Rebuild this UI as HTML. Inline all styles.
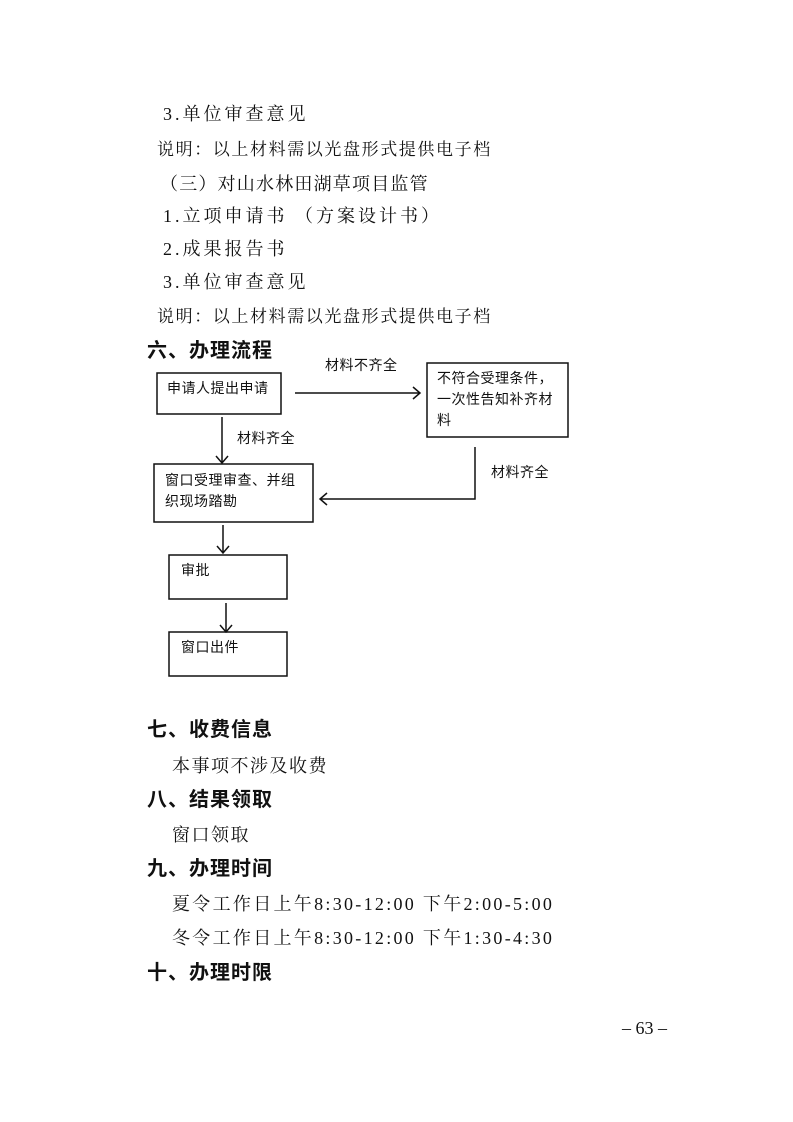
<!DOCTYPE html>
<html><head><meta charset="utf-8"><style>
body{margin:0;background:#fff;}
.p{position:relative;width:793px;height:1122px;overflow:hidden;background:#fff;}
.t{position:absolute;white-space:nowrap;font-family:"Liberation Serif","Noto Serif CJK SC",serif;color:#111;line-height:1;}
.b{font-size:18px;letter-spacing:3px;}
.s{font-size:17px;letter-spacing:1.6px;}
.h{font-family:"Liberation Sans","Noto Sans CJK SC",sans-serif;font-weight:bold;font-size:20px;letter-spacing:1px;}
.f{position:absolute;white-space:nowrap;font-family:"Liberation Sans","Noto Sans CJK SC",sans-serif;font-size:14px;letter-spacing:0.5px;line-height:21px;color:#111;}
</style></head><body><div class="p">
<div class="t b" style="left:163px;top:105px">3.单位审查意见</div>
<div class="t s" style="left:157px;top:141px">说明：以上材料需以光盘形式提供电子档</div>
<div class="t b" style="left:160px;top:175px;letter-spacing:1.2px">（三）对山水林田湖草项目监管</div>
<div class="t b" style="left:163px;top:207px">1.立项申请书 （方案设计书）</div>
<div class="t b" style="left:163px;top:240px">2.成果报告书</div>
<div class="t b" style="left:163px;top:273px">3.单位审查意见</div>
<div class="t s" style="left:157px;top:308px">说明：以上材料需以光盘形式提供电子档</div>
<div class="t h" style="left:147px;top:341px">六、办理流程</div>

<svg style="position:absolute;left:0;top:0" width="793" height="1122">
<g fill="none" stroke="#111" stroke-width="1.5">
<rect x="157" y="373" width="124" height="41"/>
<rect x="427" y="363" width="141" height="74"/>
<rect x="154" y="464" width="159" height="58"/>
<rect x="169" y="555" width="118" height="44"/>
<rect x="169" y="632" width="118" height="44"/>
<path d="M295 393H420M413 387L420 393L413 399"/>
<path d="M222 417V463M216 456L222 463L228 456"/>
<path d="M475 447V499H320M327 493L320 499L327 505"/>
<path d="M223 525V553M217 546L223 553L229 546"/>
<path d="M226 603V632M220 625L226 632L232 625"/>
</g></svg>
<div class="f" style="left:167px;top:378px">申请人提出申请</div>
<div class="f" style="left:437px;top:368px">不符合受理条件，<br>一次性告知补齐材<br>料</div>
<div class="f" style="left:165px;top:470px">窗口受理审查、并组<br>织现场踏勘</div>
<div class="f" style="left:181px;top:560px">审批</div>
<div class="f" style="left:181px;top:637px">窗口出件</div>
<div class="f" style="left:325px;top:355px">材料不齐全</div>
<div class="f" style="left:237px;top:428px">材料齐全</div>
<div class="f" style="left:491px;top:462px">材料齐全</div>

<div class="t h" style="left:147px;top:720px">七、收费信息</div>
<div class="t b" style="left:172px;top:757px;letter-spacing:1.5px">本事项不涉及收费</div>
<div class="t h" style="left:147px;top:790px">八、结果领取</div>
<div class="t b" style="left:172px;top:826px;letter-spacing:1.5px">窗口领取</div>
<div class="t h" style="left:147px;top:859px">九、办理时间</div>
<div class="t b" style="left:172px;top:895px;letter-spacing:2.3px">夏令工作日上午8:30-12:00 下午2:00-5:00</div>
<div class="t b" style="left:172px;top:929px;letter-spacing:2.3px">冬令工作日上午8:30-12:00 下午1:30-4:30</div>
<div class="t h" style="left:147px;top:963px">十、办理时限</div>
<div class="t" style="left:622px;top:1019px;font-size:18px">– 63 –</div>
</div></body></html>
